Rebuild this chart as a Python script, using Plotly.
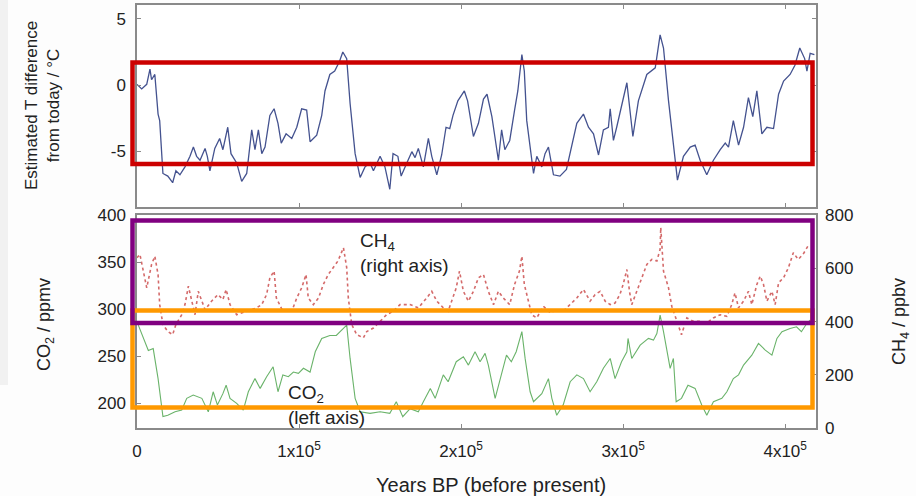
import plotly.graph_objects as go

# ---------------- data (years BP in thousands) ----------------
t_years_k = [0, 2.9, 6, 8, 9, 11, 13, 14, 16, 19, 22, 24, 26.5, 29.6, 32.7, 34.8, 36.8, 38.9, 42, 43.4,
             45, 48, 51, 53, 56, 58, 61.5, 64.6, 67.7, 70.8, 72.8, 74.9, 77, 79, 82, 84.6, 87, 89, 92, 95.5,
             98.6, 101.6, 104.7, 106.8, 110.9, 114, 116, 119, 122, 125, 127, 129.4, 131.5, 134.6, 137.7,
             140.7, 143.8, 145.9, 150, 153, 156, 158, 161, 163, 166.5, 169.6, 171.6, 173.6, 176.7, 179.8,
             181.9, 185, 188, 190.7, 193, 195, 198, 202, 204, 207.6, 210.7, 213.8, 216, 219, 223, 225, 227,
             230, 233, 235, 237.5, 239, 240.5, 242.6, 244.7, 246.7, 249.8, 251.8, 253.9, 257, 261, 265,
             268.3, 271.4, 275.5, 278.6, 281.7, 284.8, 287.8, 290.9, 292, 294, 296, 300, 302.3, 306, 309.4,
             314.6, 319.8, 322.8, 324.9, 328, 331, 333.5, 337.2, 341.4, 344.4, 347.5, 351.6, 355.7, 359.9,
             363, 365, 368, 371.2, 374.3, 377.3, 380, 382.5, 385.6, 388.7, 392.8, 395.9, 399, 403, 406, 409,
             412, 413.4, 415.4, 418]
t_diff = [0.05, -0.3, 0.05, 1.2, 0.4, 0.8, -2.2, -2.7, -6.7, -6.9, -7.4, -6.5, -6.8, -6.2, -5.4, -4.7, -5.4,
          -5.7, -4.8, -5.4, -6.5, -4.8, -4.05, -4.9, -3.2, -5.2, -5.9, -7.3, -6.7, -3.4, -4.9, -3.4, -5.2,
          -4.7, -2.3, -1.8, -2.9, -4.4, -3.7, -4.05, -3.2, -1.8, -1.9, -4.3, -3.8, -2.3, -0.45, 0.8, 1.05,
          1.8, 2.5, 2.0, -1.4, -5.2, -7.0, -6.2, -5.9, -6.5, -5.4, -6.2, -7.9, -5.2, -5.4, -6.9, -5.9, -5.05,
          -5.5, -4.8, -6.2, -4.05, -5.4, -6.8, -5.3, -3.2, -3.3, -2.3, -1.2, -0.45, -1.2, -3.9, -2.9, -1.07,
          -0.7, -2.4, -5.7, -3.4, -4.9, -4.2, -1.9, -0.45, 2.3, 1.05, -2.7, -4.9, -6.7, -5.4, -6.2, -5.2,
          -4.7, -6.8, -6.9, -6.4, -4.7, -2.9, -2.2, -3.2, -3.7, -5.3, -3.4, -3.2, -1.8, -4.2, -3.2, -0.95,
          0.17, -3.9, -1.2, 0.8, 1.3, 3.8, 2.8, -1.2, -4.7, -7.2, -5.4, -4.7, -4.55, -5.7, -6.8, -5.7, -4.9,
          -4.4, -4.7, -2.7, -4.55, -3.2, -0.95, -2.4, -0.45, -3.7, -3.2, -3.3, -0.7, 0.3, 0.8, 1.5, 2.8, 2.0,
          1.05, 2.4, 2.3]

co2_years_k = [0.8, 3.9, 7, 10, 13, 16, 19, 23.5, 27.6, 30.7, 34.7, 40, 44, 47, 49.6, 53, 55, 57.4, 61.5,
               65.6, 68.7, 72.8, 76, 80, 84, 87, 90, 93.4, 96.5, 99.6, 102.7, 106.8, 110, 114, 119, 123, 127,
               129.4, 131.5, 134.6, 137.7, 143.8, 150, 156, 160, 164, 168.5, 173.6, 176.7, 181, 184, 189,
               192, 197, 201.4, 204.5, 208.6, 211.7, 214.8, 216.8, 221, 224, 228, 231, 234, 237.5, 239.5,
               242.6, 244.7, 249.8, 253.9, 256, 259, 263, 267.3, 271.4, 275.5, 279.6, 283.7, 287.8, 292,
               295, 299, 302.3, 303, 305.3, 310.5, 315.6, 318.7, 320.8, 322.8, 324.9, 329, 331, 332.7, 336,
               340, 344.4, 348.5, 351.6, 355.7, 360.9, 364, 368, 371.2, 374.3, 379.4, 383.5, 387.7, 391.8,
               394.9, 398, 403, 407, 410, 413.4, 415.4]
co2_ppmv = [283, 268.8, 256, 258, 226, 185.5, 187, 190.7, 192.5, 205, 208.5, 205, 190.7, 212, 198, 210, 219,
            205, 199.7, 192.5, 212, 226, 215.6, 228, 238.6, 212, 230, 228, 233, 231.6, 237, 233, 254.6,
            268.8, 272, 272, 279.5, 283, 247.5, 205, 190.7, 189, 190.7, 189, 201.4, 185.5, 194, 190.7, 201.4,
            215.6, 205, 230, 222.7, 244, 249.3, 240.4, 254.6, 244, 252.9, 240.4, 205, 224.5, 251, 244, 254.6,
            276, 247.5, 212, 201.4, 210, 226, 205, 187, 198, 222.7, 230, 226, 212, 222.7, 237, 247.5, 226,
            244, 254.6, 268.8, 247.5, 261.7, 268.8, 267, 274, 293.6, 276, 237, 247.5, 201.4, 205, 219, 215.6,
            198, 187, 201.4, 205, 212, 226, 230, 240.4, 251, 263.5, 256.4, 251, 268.8, 276, 279.5, 281.2,
            276, 285, 288.3]

ch4_years_k = [0, 1.8, 3.9, 6, 9, 11, 13, 14, 16, 19, 22, 24, 27.6, 29.6, 31.7, 33.8, 35.8, 37.8, 40, 42, 46,
               50, 53, 55, 57.4, 61.5, 67.7, 73.8, 77, 80, 82, 84.6, 86, 90, 95.5, 98.6, 101.6, 104.3,
               105.7, 108.8, 112, 115, 118, 121, 124, 127.4, 129.4, 130.4, 132.5, 135.6, 139.7, 141.8,
               145.9, 150, 154, 158, 162.3, 168.5, 173.6, 178.8, 181.9, 185, 189, 192, 195, 197, 199, 201.4,
               204.5, 207.6, 210.7, 213.8, 216.8, 220, 223, 226, 230, 233, 236, 237.5, 239, 240.5, 243.6,
               246.7, 250.8, 255, 259, 263, 267.3, 271.4, 275.5, 279.6, 282.7, 285.8, 288.9, 292, 295, 298,
               300, 302.3, 303.9, 305.3, 308.4, 311.5, 314.6, 317.7, 320.8, 322.8, 323.2, 324.9, 328, 330,
               333.3, 336, 339.3, 343.4, 347.5, 351.6, 355.7, 359.9, 364, 367, 369, 371.2, 374.3, 377.3,
               379.4, 382.5, 384.6, 386.6, 388.7, 391.8, 393.8, 395.9, 399, 402, 405, 408, 411, 414]
ch4_ppbv = [640, 653, 590, 527, 615, 646, 577, 464, 389, 363, 351, 389, 426, 464, 533, 477, 426, 514, 477,
            445, 477, 502, 483, 521, 464, 426, 439, 452, 464, 502, 565, 590, 489, 439, 439, 489, 527, 577,
            489, 464, 489, 540, 577, 603, 628, 678, 603, 489, 389, 351, 339, 363, 376, 401, 426, 439, 464,
            464, 452, 489, 514, 477, 452, 439, 489, 527, 590, 514, 477, 514, 565, 577, 514, 464, 514, 489,
            464, 540, 590, 646, 540, 502, 426, 414, 458, 433, 445, 439, 464, 489, 521, 477, 502, 514, 477,
            464, 470, 502, 540, 596, 514, 464, 514, 565, 615, 634, 628, 672, 754, 590, 527, 458, 401, 351,
            414, 401, 401, 395, 414, 426, 420, 464, 508, 452, 477, 514, 464, 540, 571, 540, 477, 514, 464,
            546, 565, 603, 659, 634, 653, 684]

x_tick_vals = [0, 100000, 200000, 300000, 400000]
x_tick_text = ["0", "1x10<sup>5</sup>", "2x10<sup>5</sup>", "3x10<sup>5</sup>", "4x10<sup>5</sup>"]
t_tick_vals = [-5, 0, 5]
t_tick_text = ["-5", "0", "5"]
co2_tick_vals = [200, 250, 300, 350, 400]
ch4_tick_vals = [0, 200, 400, 600, 800]

# ---------------- layout helpers (pixels -> paper) ----------------
W, H = 916, 496
def px(x):
    return x / W
def py(y):
    return 1 - y / H

FONT = "Liberation Sans, Arial, sans-serif"
AX = "#8a8a8a"
TXT = "#222222"

fig = go.Figure()
fig.add_trace(go.Scatter(x=[v * 1000 for v in t_years_k], y=t_diff, mode="lines",
                         line=dict(color="#44528f", width=1.3), xaxis="x2", yaxis="y",
                         showlegend=False))
fig.add_trace(go.Scatter(x=[v * 1000 for v in ch4_years_k], y=ch4_ppbv, mode="lines",
                         line=dict(color="#d46a6a", width=1.6, dash="dot"), xaxis="x", yaxis="y3",
                         showlegend=False))
fig.add_trace(go.Scatter(x=[v * 1000 for v in co2_years_k], y=co2_ppmv, mode="lines",
                         line=dict(color="#6ab36a", width=1.1), xaxis="x", yaxis="y2",
                         showlegend=False))

xdom = [px(137), px(816)]
common_axis = dict(showline=True, linecolor=AX, linewidth=1.5, showgrid=False, zeroline=False,
                   automargin=False, ticks="inside", ticklen=4, tickcolor=AX,
                   tickfont=dict(family=FONT, size=17, color=TXT))

fig.update_layout(
    width=W, height=H, autosize=False,
    margin=dict(l=0, r=0, t=0, b=0, pad=0, autoexpand=False),
    paper_bgcolor="#fdfdfd", plot_bgcolor="#ffffff",
    font=dict(family=FONT, color=TXT),
    xaxis=dict(domain=xdom, range=[0, 419000], anchor="y2", tickvals=x_tick_vals, ticktext=x_tick_text,
               mirror=True, ticklabelstandoff=7, **common_axis),
    xaxis2=dict(domain=xdom, range=[0, 419000], anchor="y", matches="x", tickvals=x_tick_vals,
                showticklabels=False, mirror="ticks", **common_axis),
    yaxis=dict(domain=[py(207), py(5)], range=[-9.24, 6.06], anchor="x2", tickvals=t_tick_vals,
               ticktext=t_tick_text, mirror="ticks", ticklabelstandoff=6, **common_axis),
    yaxis2=dict(domain=[py(428), py(215)], range=[173.4, 400.3], anchor="x", tickvals=co2_tick_vals,
                mirror=True, ticklabelstandoff=6, **common_axis),
    yaxis3=dict(overlaying="y2", side="right", range=[0, 801], anchor="x", tickvals=ch4_tick_vals,
                ticklabelstandoff=8, **{k: v for k, v in common_axis.items() if k != "showline"}),
)
fig.layout.yaxis3.showline = False

ann = []
def label(text, x, y, size=16, angle=0, xanchor="center", yanchor="middle", align="center"):
    ann.append(dict(text=text, x=px(x), y=py(y), xref="paper", yref="paper", showarrow=False,
                    textangle=angle, xanchor=xanchor, yanchor=yanchor, align=align,
                    font=dict(family=FONT, size=size, color=TXT)))

label("Estimated T difference<br>from today / °C", 42, 106, size=17, angle=-90)
label("CO<sub>2</sub> / ppmv", 45, 325, size=18, angle=-90)
label("CH<sub>4</sub> / ppbv", 900, 322, size=18, angle=-90)
label("Years BP (before present)", 491, 485, size=20)
label("CH<sub>4</sub><br>(right axis)", 358, 253, size=19, xanchor="left", align="left")
label("CO<sub>2</sub><br>(left axis)", 286, 405, size=19, xanchor="left", align="left")
fig.update_layout(annotations=ann)

shapes = []
def box(x0, y0, x1, y1, color):
    shapes.append(dict(type="rect", xref="paper", yref="paper", x0=px(x0), x1=px(x1), y0=py(y1), y1=py(y0),
                       line=dict(color=color, width=4.5), fillcolor="rgba(0,0,0,0)", layer="above"))

shapes.append(dict(type="rect", xref="paper", yref="paper", x0=0, x1=px(8), y0=py(385), y1=1,
                   line=dict(width=0), fillcolor="#f1f1f1", layer="below"))
box(132.5, 62.5, 812.5, 164, "#cc0000")
box(132.5, 310.5, 812.5, 407.5, "#ff9900")
box(132.5, 220.5, 812.5, 323, "#800080")
fig.update_layout(shapes=shapes)

fig.write_html("out.html")
